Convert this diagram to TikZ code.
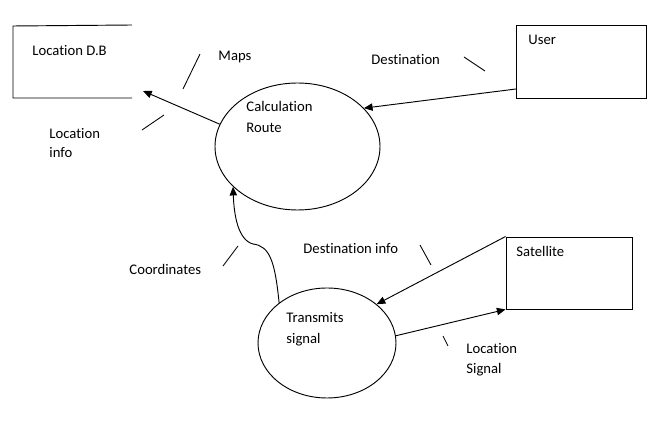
\documentclass[tikz,border=0pt]{standalone}
\usepackage{fontspec}
\setmainfont{Carlito}[Ligatures={NoCommon}]
\usetikzlibrary{shapes.geometric,arrows.meta}
\begin{document}
\begin{tikzpicture}[x=0.75pt,y=-0.75pt,
  line width=0.7pt,
  lbl/.style={anchor=base west,inner sep=0pt,font=\fontsize{11}{13}\selectfont},
  box/.style={draw,rectangle,inner sep=0pt},
  proc/.style={draw,ellipse,inner sep=0pt},
  flow/.style={-{Triangle[length=6.5pt,width=5.5pt]}},
  tick/.style={line width=0.65pt}]
\useasboundingbox (0,0) rectangle (669,427);
% Location D.B store (open on the right)
\coordinate (dbtr) at (132,25);
\coordinate (dbtl) at (13,26);
\coordinate (dbbl) at (13,98);
\coordinate (dbbr) at (132,98);
\draw (dbtr) -- (dbtl) -- (dbbl) -- (dbbr);
\node[lbl] (dbt) at (32,56) {Location D.B};
% User box
\node[box,minimum width=130*0.75pt,minimum height=73*0.75pt] (user) at (581,61.5) {};
\node[lbl] (usert) at (528,45) {User};
% Satellite box
\node[box,minimum width=126*0.75pt,minimum height=72*0.75pt] (sat) at (569,273) {};
\node[lbl] (satt) at (516,257) {Satellite};
% Processes
\node[proc,minimum width=165*0.75pt,minimum height=127*0.75pt] (calc) at (297.5,146.5) {};
\node[lbl] (calct1) at (246,112) {Calculation};
\node[lbl] (calct2) at (246,133) {Route};
\node[proc,minimum width=138*0.75pt,minimum height=110*0.75pt] (ts) at (327,343) {};
\node[lbl] (tst1) at (286,323) {Transmits};
\node[lbl] (tst2) at (286,344) {signal};
% Flows
\coordinate (dbin) at (143,91);
\draw[flow] (calc.164) -- (dbin);
\coordinate (uout) at (516,89);
\draw[flow] (uout) -- (calc.30);
\draw[flow] (sat.north west) -- (ts.38);
\draw[flow] (ts.6) -- (sat.south west);
\draw[flow] (ts.140) .. controls (275,262) and (270,246) .. (253,244)
   .. controls (238,240) and (234,215) .. (calc.212);
% Flow labels and ticks
\node[lbl] (maps) at (218,61) {Maps};
\draw[tick] (200,54) -- (183,89);
\node[lbl] (li1) at (49,139) {Location};
\node[lbl] (li2) at (49,158) {info};
\draw[tick] (164,115) -- (142,130);
\node[lbl] (dest) at (371,65) {Destination};
\draw[tick] (464,57) -- (485,71);
\node[lbl] (coord) at (129,275) {Coordinates};
\draw[tick] (238,246) -- (223,266);
\node[lbl] (dinfo) at (303,254) {Destination info};
\draw[tick] (420,245) -- (431,265);
\node[lbl] (ls1) at (466,354) {Location};
\node[lbl] (ls2) at (466,374) {Signal};
\draw[tick] (443,336) -- (448,346);
\end{tikzpicture}
\end{document}
